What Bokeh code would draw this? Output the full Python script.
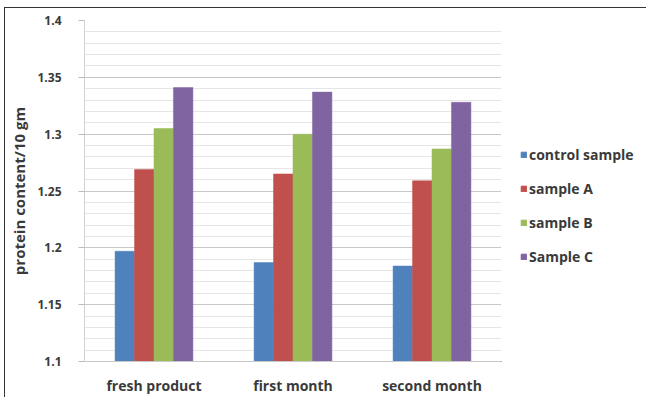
from bokeh.plotting import figure
from bokeh.models import (FactorRange, Range1d, FixedTicker, ColumnDataSource,
                          Legend, LegendItem)
from bokeh.layouts import row
from bokeh.transform import dodge
from bokeh.embed import file_html
from bokeh.resources import INLINE
import numpy as np

categories = ["fresh product", "first month", "second month"]
series_names = ["control sample", "sample A", "sample B", "Sample C"]
control_sample = [1.197, 1.187, 1.184]
sample_a = [1.269, 1.265, 1.259]
sample_b = [1.305, 1.300, 1.287]
sample_c = [1.341, 1.337, 1.328]
colors = ["#4F81BD", "#C0504D", "#9BBB59", "#8064A2"]
y_ticks = [1.1, 1.15, 1.2, 1.25, 1.3, 1.35, 1.4]
y_tick_labels = ["1.1", "1.15", "1.2", "1.25", "1.3", "1.35", "1.4"]

src = ColumnDataSource(dict(cat=categories, s0=control_sample, s1=sample_a,
                            s2=sample_b, s3=sample_c))

FONT = "Open Sans"
TXT = "#3a3a3a"
H = 389

p = figure(width=496, height=H, x_range=FactorRange(*categories),
           y_range=Range1d(1.1, 1.4), output_backend="svg",
           toolbar_location=None, min_border_left=79, min_border_right=0,
           min_border_top=12, min_border_bottom=35)
p.outline_line_color = None
p.background_fill_color = "white"
p.border_fill_color = "white"

width = 0.14
offsets = [-0.21, -0.07, 0.07, 0.21]
for i, off in enumerate(offsets):
    p.vbar(x=dodge("cat", off, range=p.x_range), top="s%d" % i, bottom=1.1,
           width=width, source=src, fill_color=colors[i],
           line_color=colors[i], line_width=0.5)

p.yaxis.ticker = FixedTicker(ticks=y_ticks,
                             minor_ticks=list(np.round(np.arange(1.1, 1.4001, 0.01), 2)))
p.yaxis.major_label_overrides = {t: l for t, l in zip(y_ticks, y_tick_labels)}
p.yaxis.axis_line_color = "#d0d0d0"
p.yaxis.major_tick_line_color = "#bbbbbb"
p.yaxis.major_tick_out = 6
p.yaxis.major_tick_in = 0
p.yaxis.minor_tick_line_color = None
p.yaxis.major_label_text_font = FONT
p.yaxis.major_label_text_font_style = "bold"
p.yaxis.major_label_text_font_size = "12px"
p.yaxis.major_label_text_color = TXT
p.yaxis.major_label_standoff = 17
p.yaxis.axis_label = "protein content/10 gm"
p.yaxis.axis_label_text_font = FONT
p.yaxis.axis_label_text_font_style = "bold"
p.yaxis.axis_label_text_font_size = "15px"
p.yaxis.axis_label_text_color = TXT
p.yaxis.axis_label_standoff = 5

p.xaxis.axis_line_color = "#c8c8c8"
p.xaxis.major_tick_line_color = None
p.xaxis.minor_tick_line_color = None
p.xaxis.major_tick_out = 0
p.xaxis.major_tick_in = 0
p.xaxis.major_label_text_font = FONT
p.xaxis.major_label_text_font_style = "bold"
p.xaxis.major_label_text_font_size = "14px"
p.xaxis.major_label_text_color = TXT
p.xaxis.major_label_standoff = 14

p.xgrid.grid_line_color = None
p.ygrid.grid_line_color = "#c8c8c8"
p.ygrid.minor_grid_line_color = "#e6e6e6"

# legend panel
p2 = figure(width=146, height=H, x_range=Range1d(0, 1), y_range=Range1d(0, 1),
            output_backend="svg", toolbar_location=None,
            min_border_left=0, min_border_right=0, min_border_top=0, min_border_bottom=0)
p2.axis.visible = False
p2.grid.grid_line_color = None
p2.outline_line_color = None
p2.border_fill_color = "white"
legend_renderers = []
for i, c in enumerate(colors):
    # a swatch-only renderer placed outside the visible range
    r = p2.vbar(x=[-5], top=[-5], bottom=[-6], width=0.1, fill_color=c, line_color=c)
    legend_renderers.append(r)

legend = Legend(items=[LegendItem(label=n, renderers=[r])
                       for n, r in zip(series_names, legend_renderers)],
                location=(19, 95), orientation="vertical")
legend.padding = 0
legend.margin = 0
legend.border_line_color = None
legend.background_fill_alpha = 0
legend.glyph_width = 7
legend.glyph_height = 7
legend.label_height = 20
legend.spacing = 14
legend.label_standoff = 2
legend.label_text_font = FONT
legend.label_text_font_style = "bold"
legend.label_text_font_size = "14px"
legend.label_text_color = TXT
p2.add_layout(legend, "center")

layout = row(p, p2, spacing=0)
layout.margin = (7, 0, 0, 4)
layout.styles = {"border-top": "1px solid #333333", "border-left": "1px solid #333333"}

open("out.html", "w").write(file_html(layout, INLINE))
